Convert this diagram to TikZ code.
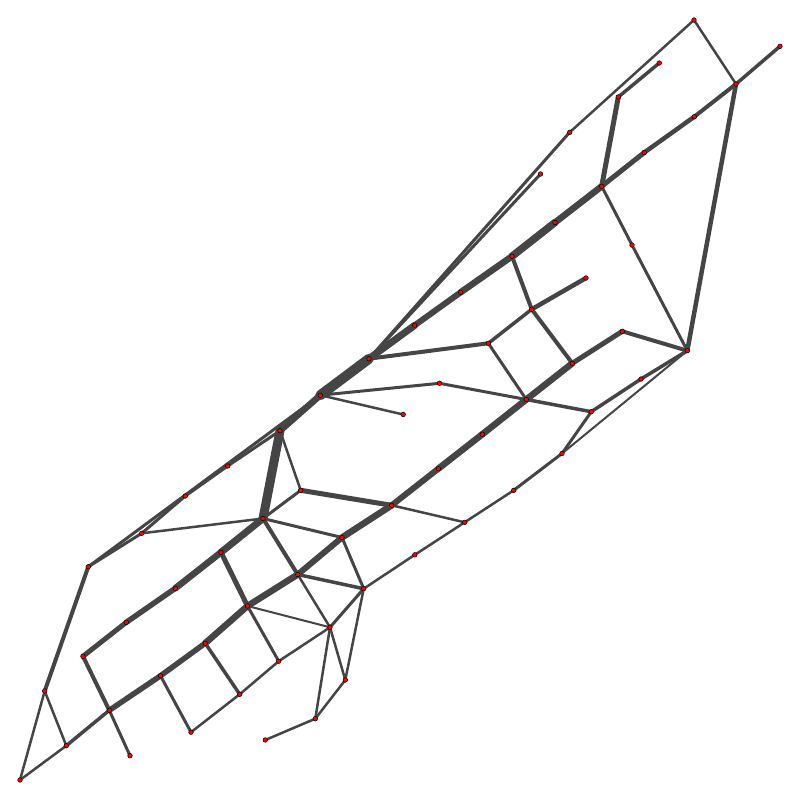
\documentclass[tikz,border=0pt]{standalone}
\usetikzlibrary{backgrounds}
\definecolor{edgegray}{HTML}{454545}
\tikzset{
  dot/.style={circle, fill=red, draw=black, line width=0.5pt, inner sep=0pt, minimum size=4.6pt},
  edge/.style={draw=edgegray, line cap=round, line join=round},
  lw/.style={line width=#1}
}
\begin{document}
\begin{tikzpicture}[x=1pt,y=-1pt]
\useasboundingbox (0,0) rectangle (800,800);
\node[dot] (A) at (694,20) {};
\node[dot] (B) at (780,46.3) {};
\node[dot] (C) at (659.3,63) {};
\node[dot] (D) at (736,84) {};
\node[dot] (E) at (618.3,97) {};
\node[dot] (F) at (694.3,116.7) {};
\node[dot] (G) at (569.7,132.3) {};
\node[dot] (H) at (644.3,152.5) {};
\node[dot] (I) at (540.5,174) {};
\node[dot] (J) at (601.7,186.3) {};
\node[dot] (n11) at (555,222.5) {};
\node[dot] (n12) at (632,245) {};
\node[dot] (n13) at (512,256.3) {};
\node[dot] (n14) at (586,278) {};
\node[dot] (n15) at (460.7,292.3) {};
\node[dot] (n16) at (531.7,309.3) {};
\node[dot] (n17) at (414.7,325.3) {};
\node[dot] (n18) at (622.3,331.3) {};
\node[dot] (n19) at (488.3,343.3) {};
\node[dot] (n20) at (687.3,350.7) {};
\node[dot] (n21) at (369,358.7) {};
\node[dot] (n22) at (572.3,363.3) {};
\node[dot] (n23) at (641,379) {};
\node[dot] (n24) at (439.5,383.3) {};
\node[dot] (n25) at (320.3,395.2) {};
\node[dot] (n26) at (526.3,399.5) {};
\node[dot] (n27) at (403.2,414.5) {};
\node[dot] (n28) at (591.3,411.7) {};
\node[dot] (n29) at (280,430.7) {};
\node[dot] (n30) at (482.3,434.3) {};
\node[dot] (n31) at (562,453.5) {};
\node[dot] (n32) at (227.7,466) {};
\node[dot] (n33) at (438.3,468.7) {};
\node[dot] (n34) at (300.7,490.3) {};
\node[dot] (n35) at (513.7,490.3) {};
\node[dot] (n36) at (185.3,496) {};
\node[dot] (n37) at (391.7,505.3) {};
\node[dot] (n38) at (263,518.5) {};
\node[dot] (n39) at (464.7,522.3) {};
\node[dot] (n40) at (141.7,533.3) {};
\node[dot] (n41) at (342,537.5) {};
\node[dot] (n42) at (221,552.3) {};
\node[dot] (n43) at (414.8,554.8) {};
\node[dot] (n44) at (88.3,566.7) {};
\node[dot] (n45) at (297.7,574.5) {};
\node[dot] (n46) at (175.3,588.3) {};
\node[dot] (n47) at (363.7,588.7) {};
\node[dot] (n48) at (247.5,606) {};
\node[dot] (n49) at (126.3,622.3) {};
\node[dot] (n50) at (330,627.3) {};
\node[dot] (n51) at (205.2,643.2) {};
\node[dot] (n52) at (83,656.3) {};
\node[dot] (n53) at (278.7,661.2) {};
\node[dot] (n54) at (160.5,675.8) {};
\node[dot] (n55) at (345.3,680) {};
\node[dot] (n56) at (239.7,694.3) {};
\node[dot] (n57) at (44.7,691) {};
\node[dot] (n58) at (109.3,710.3) {};
\node[dot] (n59) at (315.3,718.7) {};
\node[dot] (n60) at (191,732.2) {};
\node[dot] (n61) at (66.3,745.7) {};
\node[dot] (n62) at (265.3,740) {};
\node[dot] (n63) at (130,755.7) {};
\node[dot] (n64) at (20,780) {};
\begin{scope}[on background layer]
\foreach \a/\b/\w in {
A/D/2.5, A/G/2.5, G/n21/3, I/n21/3, C/E/3.5, E/J/5, B/D/3.5, D/F/4, F/H/4.5, H/J/5,
J/n11/6.5, n11/n13/7.5, n13/n15/6.5, n15/n17/6, n17/n21/7, n21/n25/10, D/n20/4.5,
J/n12/3, n12/n20/3, n13/n16/4, n16/n14/4.5, n16/n19/3.5, n16/n22/4, n22/n18/5,
n18/n20/4, n20/n23/3.5, n23/n28/3.5, n20/n31/2, n28/n31/3, n26/n28/3.5, n22/n26/6.5,
n19/n21/4, n19/n26/3, n25/n24/3, n24/n26/3, n25/n27/2.5, n26/n30/6.5, n30/n33/6.5,
n33/n37/6, n25/n29/6.5, n29/n38/9, n29/n34/2.5, n34/n38/3, n34/n37/5, n37/n39/2.5,
n31/n35/3, n35/n39/2.5, n39/n43/2.5, n43/n47/2.5, n38/n42/7, n42/n46/6.5, n46/n49/5.5,
n49/n52/5, n37/n41/6.5, n41/n45/6, n45/n48/6.5, n48/n51/6.5, n51/n54/5.5, n54/n58/5.5,
n58/n61/3.5, n61/n64/2.5, n38/n41/3, n38/n45/4, n42/n48/5, n45/n47/3.5, n45/n50/2.5,
n48/n50/2, n41/n47/3, n47/n50/3, n47/n55/2.5, n50/n55/2.5, n50/n59/2.5, n55/n59/2.5,
n59/n62/2.5, n48/n53/3, n50/n53/2.5, n53/n56/2.5, n56/n60/2.5, n51/n56/3.5, n54/n60/3,
n52/n58/4, n58/n63/3, n57/n44/4, n57/n61/2.5, n57/n64/2.5, n44/n40/3, n40/n36/3,
n44/n25/3, n36/n32/3, n32/n29/3, n38/n40/2.5}
  {\draw[edge, lw=\w pt] (\a.center) -- (\b.center);}
\end{scope}
\end{tikzpicture}
\end{document}
